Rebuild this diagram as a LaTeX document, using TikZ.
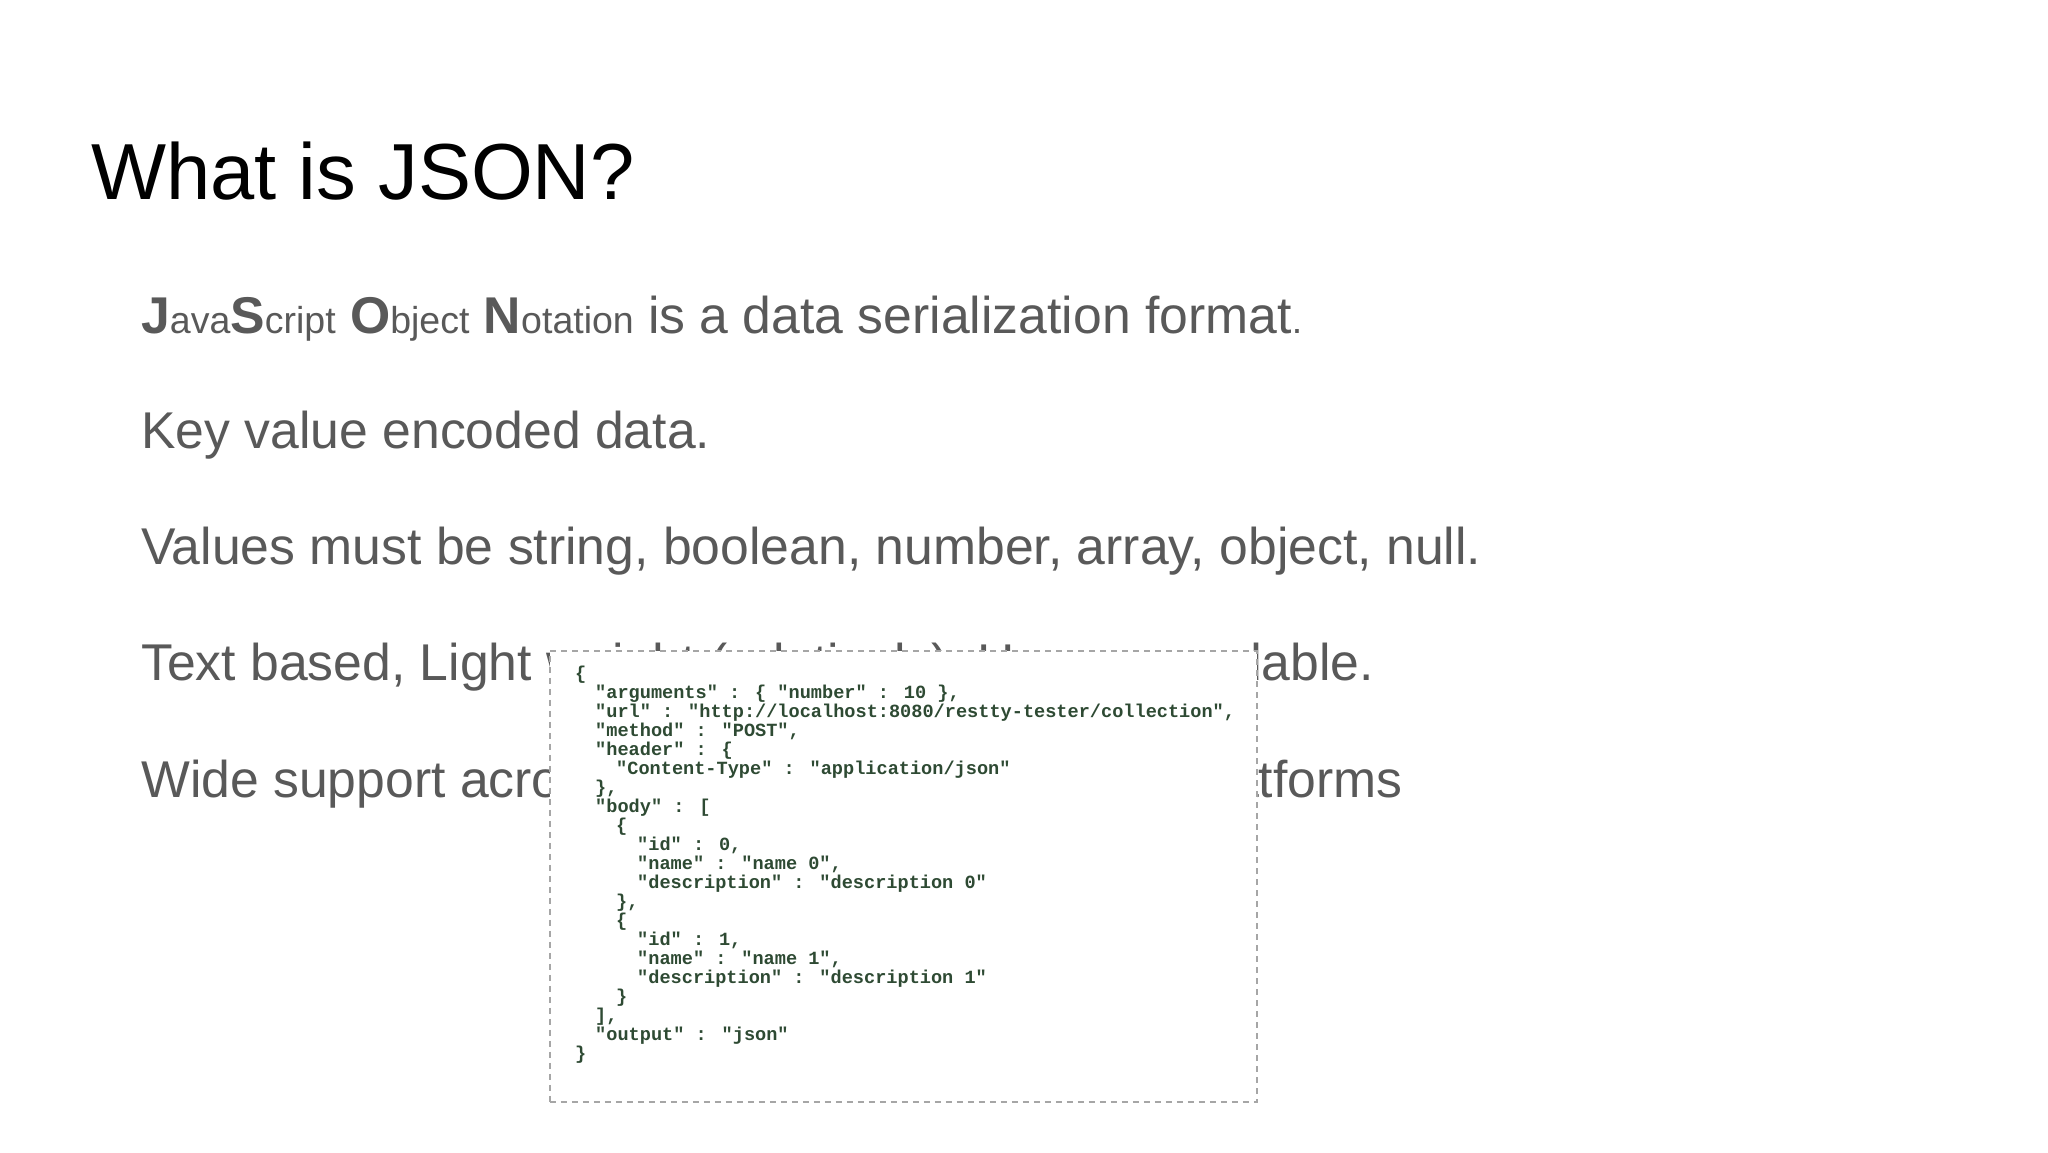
\documentclass[tikz,border=0pt]{standalone}
\usepackage{fontspec}
\setmainfont{Liberation Sans}
\newfontfamily\codefont{Liberation Mono}
\definecolor{bodygray}{HTML}{595959}
\definecolor{codegreen}{HTML}{2E4A33}
\begin{document}
\begin{tikzpicture}[x=1pt,y=-1pt,
  bul/.style={anchor=base west,inner sep=0,text=bodygray,font=\fontsize{51.7}{56}\selectfont},
  cl/.style={anchor=base west,inner sep=0,text=codegreen,font=\codefont\bfseries\fontsize{18.6}{20}\selectfont}]
\useasboundingbox (0,0) rectangle (2048,1152);
\fill[white] (0,0) rectangle (2048,1152);
\node[anchor=base west,inner sep=0,font=\fontsize{79.5}{84}\selectfont] (title) at (91,199) {What is JSON?};
\node[bul] (b1) at (141,333) {{\bfseries J}{\fontsize{37.5}{40}\selectfont ava}{\bfseries S}{\fontsize{37.5}{40}\selectfont cript} {\bfseries O}{\fontsize{37.5}{40}\selectfont bject} {\bfseries N}{\fontsize{37.5}{40}\selectfont otation} is a data serialization format{\fontsize{37.5}{40}\selectfont .}};
\node[bul] (b2) at (141,448) {Key value encoded data.};
\node[bul] (b3) at (141,564) {Values must be string, boolean, number, array, object, null.};
\node[bul] (b4) at (141,680) {Text based, Light weight (relatively), Human readable.};
\node[bul] (b5) at (141,797) {Wide support across languages, frameworks, platforms};
\node[draw=gray!70,line width=1.5pt,fill=white,inner sep=0,minimum width=707,minimum height=451,anchor=north west,dash pattern=on 6pt off 5pt] (box) at (549,650) {};
\node[cl] (c0) at (575,679) {\{};
\node[cl] (c1) at (595,698) {"arguments" : \{ "number" : 10 \},};
\node[cl] (c2) at (595,717) {"url" : "http://localhost:8080/restty-tester/collection",};
\node[cl] (c3) at (595,736) {"method" : "POST",};
\node[cl] (c4) at (595,755) {"header" : \{};
\node[cl] (c5) at (616,774) {"Content-Type" : "application/json"};
\node[cl] (c6) at (595,793) {\},};
\node[cl] (c7) at (595,812) {"body" : [};
\node[cl] (c8) at (616,831) {\{};
\node[cl] (c9) at (637,850) {"id" : 0,};
\node[cl] (c10) at (637,869) {"name" : "name 0",};
\node[cl] (c11) at (637,888) {"description" : "description 0"};
\node[cl] (c12) at (616,907) {\},};
\node[cl] (c13) at (616,926) {\{};
\node[cl] (c14) at (637,945) {"id" : 1,};
\node[cl] (c15) at (637,964) {"name" : "name 1",};
\node[cl] (c16) at (637,983) {"description" : "description 1"};
\node[cl] (c17) at (616,1002) {\}};
\node[cl] (c18) at (595,1021) {],};
\node[cl] (c19) at (595,1040) {"output" : "json"};
\node[cl] (c20) at (575,1059) {\}};
\end{tikzpicture}
\end{document}
